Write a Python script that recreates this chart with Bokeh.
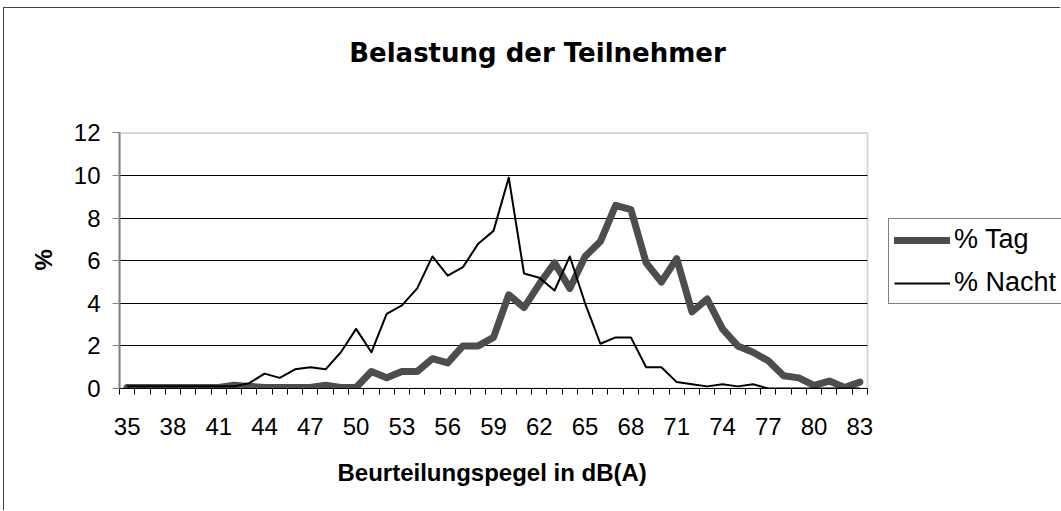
from bokeh.plotting import figure
from bokeh.models import (Range1d, FixedTicker, Legend, LegendItem, Title, Label,
                          BoxAnnotation, Grid)
from bokeh.embed import file_html
from bokeh.resources import INLINE

# ---- data ----
pegel_db = [35, 36, 37, 38, 39, 40, 41, 42, 43, 44, 45, 46, 47, 48, 49, 50,
            51, 52, 53, 54, 55, 56, 57, 58, 59, 60, 61, 62, 63, 64, 65, 66,
            67, 68, 69, 70, 71, 72, 73, 74, 75, 76, 77, 78, 79, 80, 81, 82, 83]
tag_pct = [0.05, 0.05, 0.05, 0.05, 0.05, 0.05, 0.05, 0.15, 0.1, 0.05, 0.05, 0.05,
           0.05, 0.15, 0.05, 0.05, 0.8, 0.5, 0.8, 0.8, 1.4, 1.2, 2.0, 2.0, 2.4,
           4.4, 3.8, 4.9, 5.9, 4.7, 6.2, 6.9, 8.6, 8.4, 5.9, 5.0, 6.1, 3.6, 4.2,
           2.8, 2.0, 1.7, 1.3, 0.6, 0.5, 0.15, 0.35, 0.05, 0.3]
nacht_pct = [0.1, 0.1, 0.1, 0.1, 0.1, 0.1, 0.1, 0.1, 0.25, 0.7, 0.5, 0.9, 1.0,
             0.9, 1.7, 2.8, 1.7, 3.5, 3.9, 4.7, 6.2, 5.3, 5.7, 6.8, 7.4, 9.9,
             5.4, 5.2, 4.6, 6.2, 4.0, 2.1, 2.4, 2.4, 1.0, 1.0, 0.3, 0.2, 0.1,
             0.2, 0.1, 0.2, 0.0, 0.0, 0.0, 0.0, 0.0, 0.0, 0.0]
x_tick_values = [35, 38, 41, 44, 47, 50, 53, 56, 59, 62, 65, 68, 71, 74, 77, 80, 83]
x_tick_labels = ["35", "38", "41", "44", "47", "50", "53", "56", "59", "62",
                 "65", "68", "71", "74", "77", "80", "83"]
y_tick_values = [0, 2, 4, 6, 8, 10, 12]
series_names = ["% Tag", "% Nacht"]
title_text = "Belastung der Teilnehmer"
x_title = "Beurteilungspegel in dB(A)"
y_title = "%"

FONT = "Liberation Sans"

# ---- layout constants (pixels) ----
W, H = 1057, 503
LEFT, BOTTOM = 115, 123          # space for the axes
AREA_W, AREA_H = 748, 255.6      # size of the plotted area (categories x 0..12)

x_lo = pegel_db[0] - 0.5
x_hi = pegel_db[-1] + 0.5
y_lo, y_hi = y_tick_values[0], y_tick_values[-1]
frame_w = W - LEFT
frame_h = H - BOTTOM
# the frame also covers the title (above) and the legend (right) so that they are not clipped
x_end = x_lo + (x_hi - x_lo) * frame_w / AREA_W
y_end = y_lo + (y_hi - y_lo) * frame_h / AREA_H

p = figure(width=W, height=H, output_backend="svg", toolbar_location=None,
           x_range=Range1d(x_lo, x_end), y_range=Range1d(y_lo, y_end),
           min_border_left=LEFT, min_border_right=0,
           min_border_top=0, min_border_bottom=BOTTOM)
p.styles = {"margin-top": "7px", "margin-left": "3px",
            "border-top": "1px solid #404040", "border-left": "1px solid #404040"}
p.background_fill_color = "white"
p.border_fill_color = "white"
p.outline_line_color = None

# plot-area border (Excel gray)
p.add_layout(BoxAnnotation(left=x_lo, right=x_hi, bottom=y_lo, top=y_hi,
                           fill_color=None, fill_alpha=0,
                           line_color="#808080", line_width=2, level="underlay"))

# category boundaries for tick marks (Excel style: ticks between categories)
boundaries = [v - 0.5 for v in pegel_db] + [pegel_db[-1] + 0.5]
p.xaxis.bounds = (x_lo, x_hi)
p.xaxis.ticker = FixedTicker(ticks=x_tick_values, minor_ticks=boundaries)
p.xaxis.major_label_overrides = {v: s for v, s in zip(x_tick_values, x_tick_labels)}
p.xaxis.major_tick_line_color = None
p.xaxis.major_tick_out = 6
p.xaxis.major_tick_in = 0
p.xaxis.minor_tick_line_color = "black"
p.xaxis.minor_tick_out = 6
p.xaxis.minor_tick_in = 0
p.xaxis.axis_line_color = "black"
p.xaxis.axis_line_width = 1
p.xaxis.major_label_text_font = FONT
p.xaxis.major_label_text_font_size = "24px"
p.xaxis.major_label_text_color = "black"
p.xaxis.major_label_standoff = 23

p.yaxis.bounds = (y_lo, y_hi)
p.yaxis.ticker = FixedTicker(ticks=y_tick_values, minor_ticks=[])
p.yaxis.major_tick_line_color = "#808080"
p.yaxis.major_tick_out = 7
p.yaxis.major_tick_in = 0
p.yaxis.minor_tick_line_color = None
p.yaxis.axis_line_color = "#808080"
p.yaxis.axis_line_width = 2
p.yaxis.major_label_text_font = FONT
p.yaxis.major_label_text_font_size = "24px"
p.yaxis.major_label_text_color = "black"
p.yaxis.major_label_standoff = 12

# horizontal gridlines only across the plotted area
p.xgrid.visible = False
p.ygrid.visible = False
if "cross_bounds" in Grid.properties():
    g = Grid(dimension=1, ticker=FixedTicker(ticks=y_tick_values[1:-1]),
             cross_bounds=(x_lo, x_hi), grid_line_color="black", grid_line_width=1)
    p.add_layout(g)
else:
    grid_y = y_tick_values[1:-1]
    p.segment(x0=[x_lo] * len(grid_y), x1=[x_hi] * len(grid_y), y0=grid_y, y1=grid_y,
              line_color="black", line_width=1, level="underlay")

r_tag = p.line(pegel_db, tag_pct, line_color="#4d4d4d", line_width=7,
               line_join="round", line_cap="round")
r_nacht = p.line(pegel_db, nacht_pct, line_color="black", line_width=2,
                 line_join="round")

legend = Legend(items=[LegendItem(label=series_names[0], renderers=[r_tag]),
                       LegendItem(label=series_names[1], renderers=[r_nacht])],
                location=(769, 84), orientation="vertical",
                border_line_color="black", border_line_width=1,
                background_fill_color="white", background_fill_alpha=1.0,
                label_text_font=FONT, label_text_font_size="27px",
                label_text_color="black",
                glyph_width=56, glyph_height=30, label_height=30,
                label_standoff=4, spacing=12, padding=5, margin=0)
p.add_layout(legend)

# chart title (inside the extended frame, centred on the whole chart)
p.add_layout(Label(x=418, y=336, x_units="screen", y_units="screen",
                   text=title_text, text_align="center", text_baseline="alphabetic",
                   text_font="DejaVu Sans", text_font_size="26px",
                   text_font_style="bold", text_color="black"))

# axis titles, centred on the plotted area
p.add_layout(Title(text=x_title, align="left", offset=218, vertical_align="top",
                   standoff=42, text_font=FONT, text_font_size="24px",
                   text_font_style="bold", text_color="black"), "below")
p.add_layout(Title(text=y_title, align="left", offset=118, vertical_align="bottom",
                   standoff=28, text_font=FONT, text_font_size="24px",
                   text_font_style="bold", text_color="black"), "left")

open("out.html", "w").write(file_html(p, INLINE))
